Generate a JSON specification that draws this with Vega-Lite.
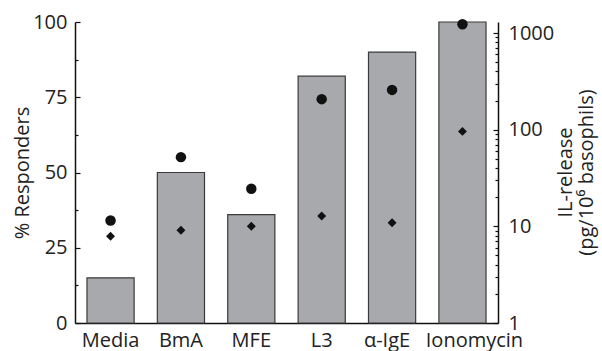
{
  "$schema": "https://vega.github.io/schema/vega-lite/v6.json",
  "width": 423,
  "height": 301,
  "autosize": "none",
  "padding": {"left": 75, "top": 22, "right": 104, "bottom": 28},
  "background": "white",
  "datasets": {
    "bars": [
      {"cond": "Media", "pct": 15},
      {"cond": "BmA", "pct": 50},
      {"cond": "MFE", "pct": 36},
      {"cond": "L3", "pct": 82},
      {"cond": "α-IgE", "pct": 90},
      {"cond": "Ionomycin", "pct": 100}
    ],
    "points": [
      {"cond": "Media", "type": "circle", "il": 11.5},
      {"cond": "Media", "type": "diamond", "il": 7.9},
      {"cond": "BmA", "type": "circle", "il": 52},
      {"cond": "BmA", "type": "diamond", "il": 9.1},
      {"cond": "MFE", "type": "circle", "il": 24.5},
      {"cond": "MFE", "type": "diamond", "il": 10},
      {"cond": "L3", "type": "circle", "il": 207},
      {"cond": "L3", "type": "diamond", "il": 12.8},
      {"cond": "α-IgE", "type": "circle", "il": 258},
      {"cond": "α-IgE", "type": "diamond", "il": 10.9},
      {"cond": "Ionomycin", "type": "circle", "il": 1230},
      {"cond": "Ionomycin", "type": "diamond", "il": 96}
    ]
  },
  "layer": [
    {
      "data": {"name": "bars"},
      "mark": {"type": "bar", "fill": "#a7a9ac", "stroke": "#3a3a3a", "strokeWidth": 1.2},
      "encoding": {
        "x": {
          "field": "cond",
          "type": "nominal",
          "scale": {"domain": ["Media", "BmA", "MFE", "L3", "α-IgE", "Ionomycin"], "paddingInner": 0.33, "paddingOuter": 0.17},
          "axis": {
            "title": null,
            "labelAngle": 0,
            "ticks": true,
            "tickSize": -5,
            "labelPadding": 12,
            "labelBaseline": "top",
            "labelFontSize": 20,
            "labelOffset": {"condition": [{"test": "datum.value == 'Ionomycin'", "value": 12}, {"test": "datum.value == 'α-IgE'", "value": -5}], "value": 0}
          }
        },
        "y": {
          "field": "pct",
          "type": "quantitative",
          "scale": {"domain": [0, 100], "nice": false},
          "axis": {
            "orient": "left",
            "title": "% Responders",
            "values": [0, 12.5, 25, 37.5, 50, 62.5, 75, 87.5, 100],
            "labelExpr": "datum.value % 25 == 0 ? datum.label : ''",
            "format": "d",
            "tickSize": {"condition": {"test": "datum.value % 25 == 0", "value": -5}, "value": -3},
            "labelPadding": 13,
            "titlePadding": 0
          }
        }
      }
    },
    {
      "data": {"name": "points"},
      "mark": {"type": "point", "filled": true, "opacity": 1, "color": "#111111"},
      "encoding": {
        "x": {"field": "cond", "type": "nominal"},
        "y": {
          "field": "il",
          "type": "quantitative",
          "scale": {"type": "log", "domain": [1, 1300], "nice": false},
          "axis": {
            "orient": "right",
            "title": ["IL-release", "(pg/10⁶ basophils)"],
            "values": [1, 2, 3, 4, 5, 6, 7, 8, 9, 10, 20, 30, 40, 50, 60, 70, 80, 90, 100, 200, 300, 400, 500, 600, 700, 800, 900, 1000],
            "labelExpr": "indexof([1, 10, 100, 1000], datum.value) >= 0 ? datum.label : ''",
            "format": "d",
            "tickSize": {"condition": {"test": "indexof([1, 10, 100, 1000], datum.value) >= 0", "value": -5}, "value": -3},
            "labelPadding": 15,
            "titleAngle": 270,
            "titleBaseline": "top",
            "titleAlign": "center",
            "titleX": 57,
            "titleY": 150,
            "titleLineHeight": 21
          }
        },
        "shape": {"field": "type", "type": "nominal", "scale": {"domain": ["circle", "diamond"], "range": ["circle", "diamond"]}, "legend": null},
        "size": {"field": "type", "type": "ordinal", "scale": {"domain": ["circle", "diamond"], "range": [110, 80]}, "legend": null}
      }
    }
  ],
  "resolve": {"scale": {"y": "independent"}},
  "config": {
    "view": {"stroke": null},
    "axis": {
      "grid": false,
      "zindex": 1,
      "domainColor": "#111111",
      "domainWidth": 1.5,
      "tickColor": "#111111",
      "tickWidth": 1.2,
      "labelFont": "Open Sans",
      "labelFontSize": 20,
      "labelColor": "#222222",
      "titleFont": "Open Sans",
      "titleFontSize": 20,
      "titleFontWeight": "normal",
      "titleColor": "#222222",
      "labelOverlap": false,
      "labelFlush": false
    }
  }
}
